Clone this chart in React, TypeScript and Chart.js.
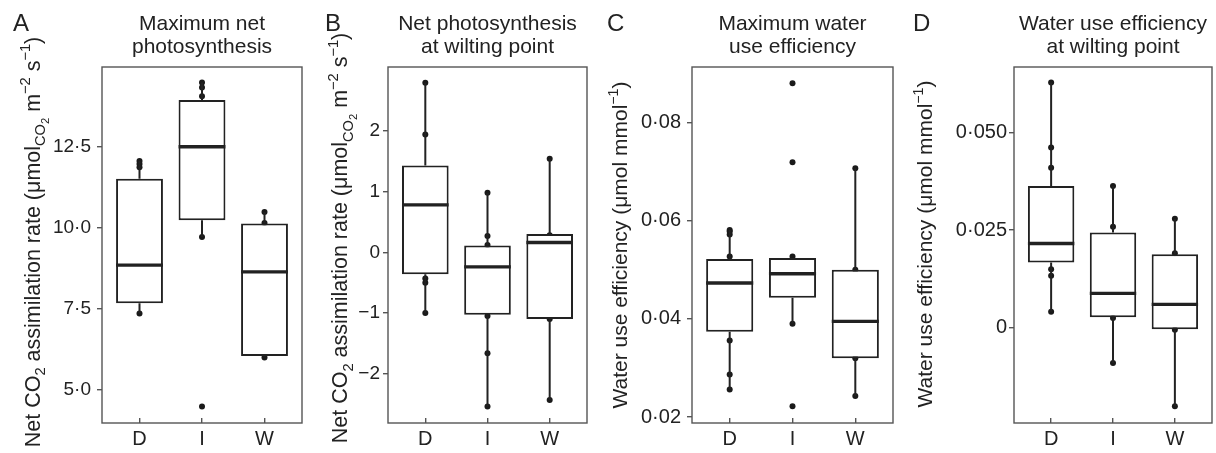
import React, { useEffect, useRef } from "react";
import { Chart, registerables } from "chart.js";

Chart.register(...registerables);

const CATEGORIES = ["D", "I", "W"];

// Panel A – Maximum net photosynthesis
const A_Q1 = [7.67, 10.23, 6.05];
const A_MED = [8.85, 12.5, 8.64];
const A_Q3 = [11.51, 13.94, 10.13];
const A_LO = [7.36, 9.72, 6.02];
const A_HI = [12.06, 14.48, 10.49];
const A_PTS_D = [12.06, 11.97, 11.87, 7.36];
const A_PTS_I = [14.48, 14.33, 14.06, 9.72, 4.49];
const A_PTS_W = [10.49, 10.15, 6.0];
const A_TICKS = [5, 7.5, 10, 12.5];
const A_TICK_LABELS = ["5·0", "7·5", "10·0", "12·5"];
const A_RANGE = [3.98, 14.96];

// Panel B – Net photosynthesis at wilting point
const B_Q1 = [-0.36, -1.03, -1.1];
const B_MED = [0.78, -0.24, 0.16];
const B_Q3 = [1.43, 0.11, 0.3];
const B_LO = [-1.0, -2.54, -2.43];
const B_HI = [2.79, 0.98, 1.54];
const B_PTS_D = [2.79, 1.94, -0.43, -0.5, -1.0];
const B_PTS_I = [0.98, 0.27, 0.12, -1.05, -1.66, -2.54];
const B_PTS_W = [1.54, 0.28, 0.14, -1.1, -2.43];
const B_TICKS = [-2, -1, 0, 1, 2];
const B_TICK_LABELS = ["−2", "−1", "0", "1", "2"];
const B_RANGE = [-2.81, 3.05];

// Panel C – Maximum water use efficiency
const C_Q1 = [0.0374, 0.0443, 0.032];
const C_MED = [0.0473, 0.0492, 0.0395];
const C_Q3 = [0.0522, 0.0524, 0.05];
const C_LO = [0.0256, 0.039, 0.0243];
const C_HI = [0.0581, 0.0524, 0.0707];
const C_PTS_D = [0.0581, 0.0578, 0.0572, 0.0527, 0.0356, 0.0287, 0.0256];
const C_PTS_I = [0.088, 0.0719, 0.0527, 0.039, 0.0222];
const C_PTS_W = [0.0707, 0.05, 0.032, 0.0243];
const C_TICKS = [0.02, 0.04, 0.06, 0.08];
const C_TICK_LABELS = ["0·02", "0·04", "0·06", "0·08"];
const C_RANGE = [0.0188, 0.0913];

// Panel D – Water use efficiency at wilting point
const D_Q1 = [0.0167, 0.0027, -0.0004];
const D_MED = [0.0216, 0.0088, 0.006];
const D_Q3 = [0.0363, 0.0244, 0.0188];
const D_LO = [0.0041, -0.009, -0.0201];
const D_HI = [0.0628, 0.0363, 0.0279];
const D_PTS_D = [0.0628, 0.0462, 0.041, 0.015, 0.0133, 0.0041];
const D_PTS_I = [0.0363, 0.0259, 0.0025, -0.009];
const D_PTS_W = [0.0279, 0.0191, -0.0005, -0.0201];
const D_TICKS = [0, 0.025, 0.05];
const D_TICK_LABELS = ["0", "0·025", "0·050"];
const D_RANGE = [-0.0244, 0.0668];

// Text
type Seg = [string, number]; // level: 0 normal, -1 sub, -2 sub-sub, 1 sup
const NET_CO2_TITLE: Seg[] = [
  ["Net CO", 0], ["2", -1], [" assimilation rate (μmol", 0], ["CO", -1], ["2", -2],
  [" m", 0], ["−2", 1], [" s", 0], ["−1", 1], [")", 0],
];
const WUE_TITLE: Seg[] = [["Water use efficiency (μmol mmol", 0], ["−1", 1], [")", 0]];

const FONT = '"Liberation Sans", Arial, Helvetica, sans-serif';
const INK = "#222222";

interface Panel {
  letter: string; title: string[]; ytitle: Seg[];
  q1: number[]; med: number[]; q3: number[]; lo: number[]; hi: number[];
  pts: number[][]; ticks: number[]; tickLabels: string[]; range: number[];
  left: number; width: number; plotLeft: number; plotRight: number;
  letterX: number; ytitleX: number; ytitleY: number; ytitleSize: number;
  tickSize: number; tickPad: number;
}

const PANELS: Panel[] = [
  { letter: "A", title: ["Maximum net", "photosynthesis"], ytitle: NET_CO2_TITLE,
    q1: A_Q1, med: A_MED, q3: A_Q3, lo: A_LO, hi: A_HI, pts: [A_PTS_D, A_PTS_I, A_PTS_W],
    ticks: A_TICKS, tickLabels: A_TICK_LABELS, range: A_RANGE,
    left: 0, width: 310, plotLeft: 102, plotRight: 302, letterX: 13, ytitleX: 39.5, ytitleY: 242, ytitleSize: 21.5, tickSize: 19, tickPad: 6 },
  { letter: "B", title: ["Net photosynthesis", "at wilting point"], ytitle: NET_CO2_TITLE,
    q1: B_Q1, med: B_MED, q3: B_Q3, lo: B_LO, hi: B_HI, pts: [B_PTS_D, B_PTS_I, B_PTS_W],
    ticks: B_TICKS, tickLabels: B_TICK_LABELS, range: B_RANGE,
    left: 310, width: 290, plotLeft: 388, plotRight: 587, letterX: 325, ytitleX: 347, ytitleY: 238, ytitleSize: 21.5, tickSize: 19, tickPad: 3 },
  { letter: "C", title: ["Maximum water", "use efficiency"], ytitle: WUE_TITLE,
    q1: C_Q1, med: C_MED, q3: C_Q3, lo: C_LO, hi: C_HI, pts: [C_PTS_D, C_PTS_I, C_PTS_W],
    ticks: C_TICKS, tickLabels: C_TICK_LABELS, range: C_RANGE,
    left: 600, width: 305, plotLeft: 692, plotRight: 893, letterX: 607, ytitleX: 627, ytitleY: 245, ytitleSize: 21, tickSize: 20, tickPad: 6 },
  { letter: "D", title: ["Water use efficiency", "at wilting point"], ytitle: WUE_TITLE,
    q1: D_Q1, med: D_MED, q3: D_Q3, lo: D_LO, hi: D_HI, pts: [D_PTS_D, D_PTS_I, D_PTS_W],
    ticks: D_TICKS, tickLabels: D_TICK_LABELS, range: D_RANGE,
    left: 905, width: 311, plotLeft: 1014, plotRight: 1215, letterX: 913, ytitleX: 932, ytitleY: 244, ytitleSize: 21, tickSize: 20, tickPad: 2 },
];

const H = 453;
const PLOT_TOP = 67;
const PLOT_BOTTOM = 423;
const BOX_HALF = 0.375;

function drawRich(ctx: CanvasRenderingContext2D, segs: Seg[], x: number, cy: number, size: number) {
  const cfg = (l: number) =>
    l === 0 ? { s: size, dy: 0 } :
    l === 1 ? { s: size * 0.68, dy: -size * 0.42 } :
    l === -1 ? { s: size * 0.68, dy: size * 0.26 } :
    { s: size * 0.52, dy: size * 0.46 };
  ctx.save();
  ctx.translate(x, cy);
  ctx.rotate(-Math.PI / 2);
  ctx.textAlign = "left";
  ctx.textBaseline = "alphabetic";
  ctx.fillStyle = INK;
  let total = 0;
  const widths = segs.map(([t, l]) => {
    ctx.font = `${cfg(l).s}px ${FONT}`;
    const w = ctx.measureText(t).width;
    total += w;
    return w;
  });
  let pos = -total / 2;
  segs.forEach(([t, l], i) => {
    const c = cfg(l);
    ctx.font = `${c.s}px ${FONT}`;
    ctx.fillText(t, pos, c.dy);
    pos += widths[i];
  });
  ctx.restore();
}

function PanelChart({ p }: { p: Panel }) {
  const ref = useRef<HTMLCanvasElement | null>(null);
  useEffect(() => {
    if (!ref.current) return;
    const boxData = CATEGORIES.map((_, i) => ({ x: i + 1, y: [p.q1[i], p.q3[i]] }));
    const medData: any[] = [];
    const whiskData: any[] = [];
    CATEGORIES.forEach((_, i) => {
      const c = i + 1;
      medData.push({ x: c - BOX_HALF, y: p.med[i] }, { x: c + BOX_HALF, y: p.med[i] }, { x: c + 0.5, y: null });
      whiskData.push(
        { x: c, y: p.q3[i] }, { x: c, y: p.hi[i] }, { x: c, y: null },
        { x: c, y: p.q1[i] }, { x: c, y: p.lo[i] }, { x: c, y: null },
      );
    });
    const ptData = p.pts.flatMap((arr, i) => arr.map((v) => ({ x: i + 1, y: v })));

    const decor = {
      id: "decor",
      afterDraw(chart: any) {
        const ctx = chart.ctx as CanvasRenderingContext2D;
        const a = chart.chartArea;
        ctx.save();
        ctx.strokeStyle = "#555555";
        ctx.lineWidth = 1.4;
        ctx.strokeRect(a.left, a.top, a.right - a.left, a.bottom - a.top);
        ctx.fillStyle = INK;
        ctx.textAlign = "left";
        ctx.textBaseline = "alphabetic";
        ctx.font = `24px ${FONT}`;
        ctx.fillText(p.letter, p.letterX - p.left, 31);
        ctx.textAlign = "center";
        ctx.font = `21px ${FONT}`;
        const cx = (a.left + a.right) / 2;
        ctx.fillText(p.title[0], cx, 29.5);
        ctx.fillText(p.title[1], cx, 52.5);
        ctx.restore();
        drawRich(ctx, p.ytitle, p.ytitleX - p.left, p.ytitleY, p.ytitleSize);
      },
    };

    const chart = new Chart(ref.current, {
      type: "bar",
      data: {
        datasets: [
          {
            type: "line", data: medData, borderColor: INK, borderWidth: 3.4, pointRadius: 0,
            spanGaps: false, fill: false, order: 0, borderCapStyle: "butt",
          } as any,
          {
            type: "line", data: whiskData, borderColor: INK, borderWidth: 2, pointRadius: 0,
            spanGaps: false, fill: false, order: 1,
          } as any,
          {
            type: "bar", data: boxData as any, backgroundColor: "#ffffff", borderColor: INK,
            borderWidth: 2, borderSkipped: false, barPercentage: 0.75, categoryPercentage: 1, order: 2,
          } as any,
          {
            type: "scatter", data: ptData, backgroundColor: "#1a1a1a", borderColor: "#1a1a1a",
            pointRadius: 3, borderWidth: 0, order: 3,
          } as any,
        ],
      },
      options: {
        animation: false,
        responsive: false,
        devicePixelRatio: 1,
        events: [],
        layout: { padding: { left: 0, right: p.left + p.width - p.plotRight, top: PLOT_TOP, bottom: 0 } },
        plugins: { legend: { display: false }, tooltip: { enabled: false }, title: { display: false } },
        scales: {
          x: {
            type: "linear", min: 0.4, max: 3.6, offset: false,
            afterBuildTicks: (s: any) => { s.ticks = CATEGORIES.map((_, i) => ({ value: i + 1 })); },
            afterFit: (s: any) => { s.height = H - PLOT_BOTTOM; },
            ticks: {
              callback: (v: any) => CATEGORIES[Math.round(Number(v)) - 1] ?? "",
              font: { family: FONT, size: 20 }, color: INK, padding: 9, maxRotation: 0, autoSkip: false,
            },
            grid: { drawOnChartArea: false, offset: false, tickLength: -5, color: "#555555", lineWidth: 1.4 },
            border: { display: false },
          },
          y: {
            type: "linear", min: p.range[0], max: p.range[1],
            afterBuildTicks: (s: any) => { s.ticks = p.ticks.map((v) => ({ value: v })); },
            afterFit: (s: any) => { s.width = p.plotLeft - p.left; },
            ticks: {
              callback: (v: any) => {
                const i = p.ticks.findIndex((t) => Math.abs(t - Number(v)) < 1e-9);
                return i >= 0 ? p.tickLabels[i] : "";
              },
              font: { family: FONT, size: p.tickSize }, color: INK, padding: p.tickPad, autoSkip: false,
            },
            grid: { drawOnChartArea: false, tickLength: 5, color: "#555555", lineWidth: 1.4 },
            border: { display: false },
          },
        },
      } as any,
      plugins: [decor],
    });
    return () => chart.destroy();
  }, [p]);
  return (
    <canvas
      ref={ref}
      width={p.width}
      height={H}
      style={{ position: "absolute", left: p.left, top: 0, width: p.width, height: H }}
    />
  );
}

export default function App() {
  return (
    <div style={{ position: "absolute", left: 0, top: 0, width: 1216, height: H, background: "#ffffff", overflow: "hidden" }}>
      {PANELS.map((p) => (
        <PanelChart key={p.letter} p={p} />
      ))}
    </div>
  );
}
